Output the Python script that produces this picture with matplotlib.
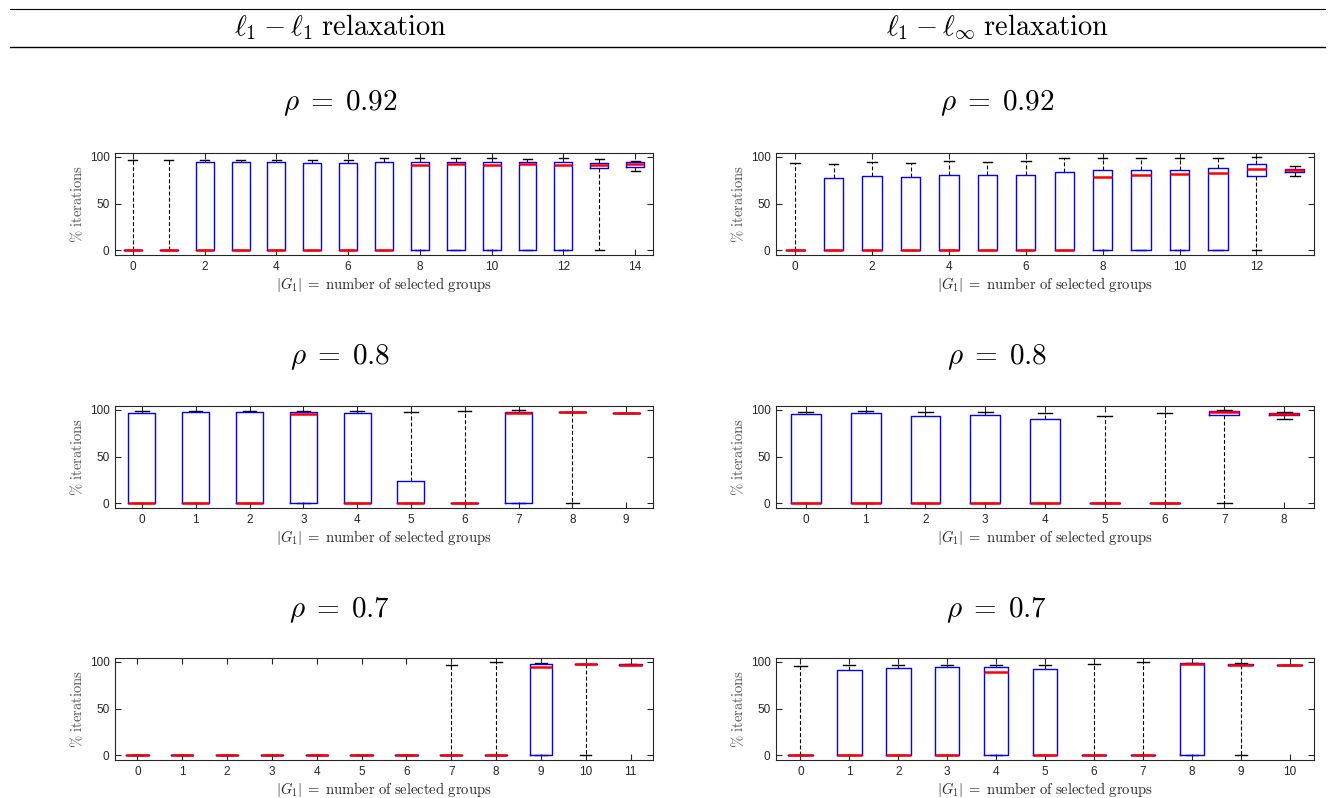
import matplotlib
matplotlib.use("Agg")
import matplotlib.pyplot as plt
from matplotlib.lines import Line2D

plt.rcParams['font.family'] = ['Liberation Sans', 'DejaVu Sans']
plt.rcParams['mathtext.fontset'] = 'cm'

# ---------------- data ----------------
# rho = 0.92, l1-l1
p1_q1 = [0, 0, 0, 0, 0, 0, 0, 0, 0, 0, 0, 0, 0, 88, 88.6]
p1_med = [0, 0, 0, 0, 0, 0, 0, 0, 91, 92, 91, 92, 91, 91, 91.8]
p1_q3 = [0, 0, 94, 94, 94, 93, 93, 94, 94, 94, 94, 94, 94, 93, 94]
p1_lo = [0, 0, 0, 0, 0, 0, 0, 0, 0, 0, 0, 0, 0, 0, 84.7]
p1_hi = [97, 97, 97, 97, 97, 97, 97, 99, 99, 99, 99, 98, 99, 98, 95.7]

# rho = 0.92, l1-linf
p2_q1 = [0, 0, 0, 0, 0, 0, 0, 0, 0, 0, 0, 0, 79, 83.3]
p2_med = [0, 0, 0, 0, 0, 0, 0, 0, 78, 81, 82, 83, 87, 85.5]
p2_q3 = [0, 77, 79, 78, 81, 81, 81, 84, 86, 86, 86, 87.5, 92, 86.8]
p2_lo = [0, 0, 0, 0, 0, 0, 0, 0, 0, 0, 0, 0, 0, 79.6]
p2_hi = [93, 92, 94, 93, 95, 94, 95, 99, 99, 99, 99, 99, 100, 90]

# rho = 0.8, l1-l1
p3_q1 = [0, 0, 0, 0, 0, 0, 0, 0, 97.5, 97]
p3_med = [0, 0, 0, 95, 0, 0, 0, 97, 97.5, 97]
p3_q3 = [97, 98, 98, 97.5, 97, 24, 0, 98, 97.5, 97]
p3_lo = [0, 0, 0, 0, 0, 0, 0, 0, 0, 97]
p3_hi = [99, 99, 99, 99, 98.5, 97.5, 99, 99.5, 98, 97]

# rho = 0.8, l1-linf
p4_q1 = [0, 0, 0, 0, 0, 0, 0, 94, 94.6]
p4_med = [0, 0, 0, 0, 0, 0, 0, 97.5, 95.7]
p4_q3 = [95.3, 96.4, 92.8, 94, 90.3, 0, 0, 99, 96.4]
p4_lo = [0, 0, 0, 0, 0, 0, 0, 0, 89.6]
p4_hi = [98, 99, 98, 97.5, 96, 93, 96, 99.6, 97.5]

# rho = 0.7, l1-l1
p5_q1 = [0, 0, 0, 0, 0, 0, 0, 0, 0, 0, 97.5, 96.5]
p5_med = [0, 0, 0, 0, 0, 0, 0, 0, 0, 94.2, 97.5, 97]
p5_q3 = [0, 0, 0, 0, 0, 0, 0, 0, 0, 97.8, 97.5, 97.2]
p5_lo = [0, 0, 0, 0, 0, 0, 0, 0, 0, 0, 0, 96.5]
p5_hi = [0, 0, 0, 0, 0, 0, 0, 96.4, 99.3, 99, 98, 97.5]

# rho = 0.7, l1-linf
p6_q1 = [0, 0, 0, 0, 0, 0, 0, 0, 0, 96.5, 96.8]
p6_med = [0, 0, 0, 0, 89.2, 0, 0, 0, 98, 97, 96.8]
p6_q3 = [0, 91, 93, 94.2, 94.6, 92, 0, 0, 98.5, 97.8, 96.8]
p6_lo = [0, 0, 0, 0, 0, 0, 0, 0, 0, 0, 96.8]
p6_hi = [95.7, 96.4, 97, 97, 97, 96.8, 97.5, 100, 99, 98.5, 96.8]

col_titles = [r"$\ell_1\:-\:\ell_1\;\mathrm{relaxation}$", r"$\ell_1\:-\:\ell_\infty\;\mathrm{relaxation}$"]
row_titles = [r"$\rho\;=\;0.92$", r"$\rho\;=\;0.8$", r"$\rho\;=\;0.7$"]
xlabel = r"$|G_1|\;=\;\mathrm{number\ of\ selected\ groups}$"
ylabel = r"$\%\ \mathrm{iterations}$"
yticks = [0, 50, 100]

panels = [
    (p1_q1, p1_med, p1_q3, p1_lo, p1_hi, 2),
    (p2_q1, p2_med, p2_q3, p2_lo, p2_hi, 2),
    (p3_q1, p3_med, p3_q3, p3_lo, p3_hi, 1),
    (p4_q1, p4_med, p4_q3, p4_lo, p4_hi, 1),
    (p5_q1, p5_med, p5_q3, p5_lo, p5_hi, 1),
    (p6_q1, p6_med, p6_q3, p6_lo, p6_hi, 1),
]

# ---------------- figure ----------------
W, H = 1335, 798
fig = plt.figure(figsize=(W / 100, H / 100), dpi=100)

def fx(px):
    return px / W

def fy(py):
    return 1 - py / H

# header rules
fig.add_artist(Line2D([fx(10), fx(1325)], [fy(9), fy(9)], color='black', lw=0.8, transform=fig.transFigure))
fig.add_artist(Line2D([fx(10), fx(1325)], [fy(47), fy(47)], color='black', lw=1.0, transform=fig.transFigure))

col_centers = [340, 997]
for c, t in zip(col_centers, col_titles):
    fig.text(fx(c), fy(27), t, ha='center', va='center', fontsize=20.5)

ax_left = [115, 776]
ax_w = 538
ax_tops = [153, 406, 658]
ax_h = 102
title_y = [103, 357, 610]

axis_col = '#262626'

for i, (q1, med, q3, lo, hi, step) in enumerate(panels):
    r, c = divmod(i, 2)
    ax = fig.add_axes([fx(ax_left[c]), fy(ax_tops[r] + ax_h), fx(ax_w), ax_h / H])
    n = len(q1)
    stats = []
    for k in range(n):
        stats.append(dict(med=med[k], q1=q1[k], q3=q3[k], whislo=lo[k], whishi=hi[k], fliers=[]))
    ax.bxp(stats, positions=list(range(n)), widths=0.5, capwidths=0.25,
           showfliers=False, manage_ticks=False,
           boxprops=dict(color='#0000ff', lw=1.0, zorder=3),
           medianprops=dict(color='#ff0000', lw=1.8, zorder=4),
           whiskerprops=dict(color='black', lw=0.8, linestyle=(0, (3.5, 2)), zorder=2),
           capprops=dict(color='black', lw=1.0, zorder=2))
    ax.set_xlim(-0.5, n - 0.5)
    ax.set_ylim(-5, 104)
    ax.set_xticks(list(range(0, n, step)))
    ax.set_yticks(yticks)
    ax.tick_params(direction='in', top=True, right=True, length=4, width=0.8,
                   labelsize=8.5, colors=axis_col, pad=4)
    for s in ax.spines.values():
        s.set_color(axis_col)
        s.set_linewidth(0.8)
    ax.set_xlabel(xlabel, fontsize=10.5, color='#262626', labelpad=2)
    ax.set_ylabel(ylabel, fontsize=10.5, color='#555555', labelpad=3)
    fig.text(fx(col_centers[c]), fy(title_y[r]), row_titles[r], ha='center', va='center', fontsize=21)

fig.savefig('out.png', dpi=100)
